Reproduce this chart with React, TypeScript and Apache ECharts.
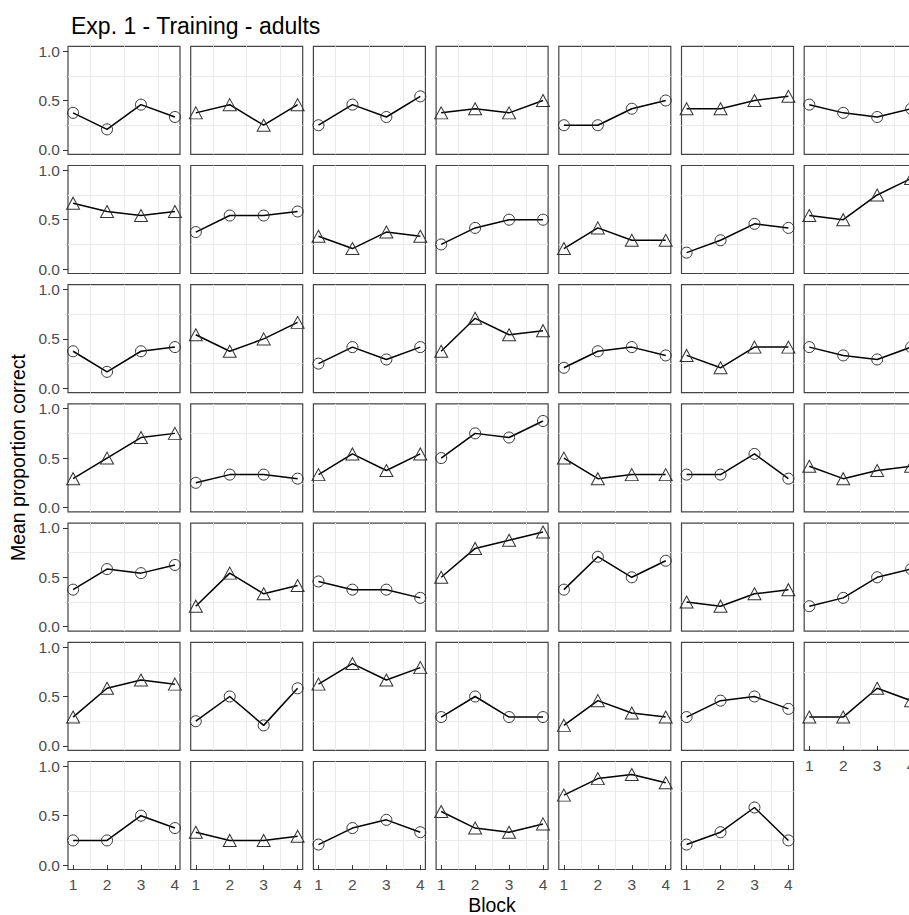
import React, { useEffect, useRef } from "react";
import * as echarts from "echarts";

const titleText = "Exp. 1 - Training - adults";
const xAxisTitle = "Block";
const yAxisTitle = "Mean proportion correct";

const blocks = [1, 2, 3, 4];
const xMinorGrid = [1.5, 2.5, 3.5];
const yTicks = [0, 0.5, 1];
const yMinorGrid = [0.25, 0.75];

const row1Values = [
  [0.375, 0.208, 0.458, 0.333],
  [0.375, 0.458, 0.25, 0.458],
  [0.25, 0.458, 0.333, 0.542],
  [0.375, 0.417, 0.375, 0.5],
  [0.25, 0.25, 0.417, 0.5],
  [0.417, 0.417, 0.5, 0.542],
  [0.458, 0.375, 0.333, 0.417],
];
const row2Values = [
  [0.667, 0.583, 0.542, 0.583],
  [0.375, 0.542, 0.542, 0.583],
  [0.333, 0.208, 0.375, 0.333],
  [0.25, 0.417, 0.5, 0.5],
  [0.208, 0.417, 0.292, 0.292],
  [0.167, 0.292, 0.458, 0.417],
  [0.542, 0.5, 0.75, 0.917],
];
const row3Values = [
  [0.375, 0.167, 0.375, 0.417],
  [0.542, 0.375, 0.5, 0.667],
  [0.25, 0.417, 0.292, 0.417],
  [0.375, 0.708, 0.542, 0.583],
  [0.208, 0.375, 0.417, 0.333],
  [0.333, 0.208, 0.417, 0.417],
  [0.417, 0.333, 0.292, 0.417],
];
const row4Values = [
  [0.292, 0.5, 0.708, 0.75],
  [0.25, 0.333, 0.333, 0.292],
  [0.333, 0.542, 0.375, 0.542],
  [0.5, 0.75, 0.708, 0.875],
  [0.5, 0.292, 0.333, 0.333],
  [0.333, 0.333, 0.542, 0.292],
  [0.417, 0.292, 0.375, 0.417],
];
const row5Values = [
  [0.375, 0.583, 0.542, 0.625],
  [0.208, 0.542, 0.333, 0.417],
  [0.458, 0.375, 0.375, 0.292],
  [0.5, 0.792, 0.875, 0.958],
  [0.375, 0.708, 0.5, 0.667],
  [0.25, 0.208, 0.333, 0.375],
  [0.208, 0.292, 0.5, 0.583],
];
const row6Values = [
  [0.292, 0.583, 0.667, 0.625],
  [0.25, 0.5, 0.208, 0.583],
  [0.625, 0.833, 0.667, 0.792],
  [0.292, 0.5, 0.292, 0.292],
  [0.208, 0.458, 0.333, 0.292],
  [0.292, 0.458, 0.5, 0.375],
  [0.292, 0.292, 0.583, 0.458],
];
const row7Values = [
  [0.25, 0.25, 0.5, 0.375],
  [0.333, 0.25, 0.25, 0.292],
  [0.208, 0.375, 0.458, 0.333],
  [0.542, 0.375, 0.333, 0.417],
  [0.708, 0.875, 0.917, 0.833],
  [0.208, 0.333, 0.583, 0.25],
];

const row1Shapes = ["circle", "triangle", "circle", "triangle", "circle", "triangle", "circle"];
const row2Shapes = ["triangle", "circle", "triangle", "circle", "triangle", "circle", "triangle"];
const row3Shapes = ["circle", "triangle", "circle", "triangle", "circle", "triangle", "circle"];
const row4Shapes = ["triangle", "circle", "triangle", "circle", "triangle", "circle", "triangle"];
const row5Shapes = ["circle", "triangle", "circle", "triangle", "circle", "triangle", "circle"];
const row6Shapes = ["triangle", "circle", "triangle", "circle", "triangle", "circle", "triangle"];
const row7Shapes = ["circle", "triangle", "circle", "triangle", "triangle", "circle"];

const rowsValues = [row1Values, row2Values, row3Values, row4Values, row5Values, row6Values, row7Values];
const rowsShapes = [row1Shapes, row2Shapes, row3Shapes, row4Shapes, row5Shapes, row6Shapes, row7Shapes];

const FONT = "'Liberation Sans', Arial, sans-serif";

export default function App() {
  const ref = useRef<HTMLDivElement>(null);
  useEffect(() => {
    if (!ref.current) return;
    const chart = echarts.init(ref.current, undefined, { renderer: "svg" });

    const nCols = 7;
    const panelLeft0 = 68;
    const colStep = 122.7;
    const panelTop0 = 46.3;
    const rowStep = 119.2;
    const panelW = 112;
    const panelH = 108;

    const grids: any[] = [];
    const xAxes: any[] = [];
    const yAxes: any[] = [];
    const series: any[] = [];

    const bottomRow: number[] = [];
    for (let c = 0; c < nCols; c++) {
      let b = 0;
      rowsValues.forEach((row, r) => {
        if (row[c]) b = r;
      });
      bottomRow[c] = b;
    }

    let idx = 0;
    rowsValues.forEach((row, r) => {
      row.forEach((vals, c) => {
        const isBottom = bottomRow[c] === r;
        const isLeft = c === 0;
        grids.push({
          left: panelLeft0 + c * colStep,
          top: panelTop0 + r * rowStep,
          width: panelW,
          height: panelH,
          show: true,
          borderColor: "#444444",
          borderWidth: 1.2,
          backgroundColor: "#ffffff",
          outerBoundsMode: "none",
          containLabel: false,
        });
        xAxes.push({
          gridIndex: idx,
          type: "value",
          min: 0.85,
          max: 4.15,
          axisLine: { show: false },
          splitLine: { show: false },
          axisTick: {
            show: isBottom,
            customValues: blocks,
            length: 5,
            lineStyle: { color: "#333333", width: 1 },
          },
          axisLabel: {
            show: isBottom,
            customValues: blocks,
            margin: 7,
            fontSize: 15.5,
            color: "#4D4D4D",
            fontFamily: FONT,
            formatter: (v: number) => String(v),
          },
        });
        yAxes.push({
          gridIndex: idx,
          type: "value",
          min: -0.044,
          max: 1.048,
          axisLine: { show: false },
          splitLine: { show: false },
          axisTick: {
            show: isLeft,
            customValues: yTicks,
            length: 5,
            lineStyle: { color: "#333333", width: 1 },
          },
          axisLabel: {
            show: isLeft,
            customValues: yTicks,
            margin: 8,
            fontSize: 15.5,
            color: "#4D4D4D",
            fontFamily: FONT,
            formatter: (v: number) => v.toFixed(1),
          },
        });
        const data = blocks.map((b, k) => [b, vals[k]]);
        series.push({
          type: "line",
          xAxisIndex: idx,
          yAxisIndex: idx,
          data,
          z: 1,
          silent: true,
          showSymbol: false,
          symbol: "none",
          lineStyle: { opacity: 0 },
          markLine: {
            silent: true,
            z: 1,
            symbol: ["none", "none"],
            label: { show: false },
            animation: false,
            lineStyle: { color: "#EBEBEB", type: "solid", width: 1 },
            data: [
              ...xMinorGrid.map((x) => ({ xAxis: x })),
              ...yMinorGrid.map((y) => ({ yAxis: y })),
            ],
          },
        });
        const shape = rowsShapes[r][c];
        series.push({
          type: "line",
          xAxisIndex: idx,
          yAxisIndex: idx,
          data,
          z: 10,
          symbol: shape,
          symbolSize: shape === "circle" ? 11 : [13, 12],
          showSymbol: true,
          lineStyle: { color: "#000000", width: 1.5 },
          itemStyle: {
            color: "rgba(255,255,255,0)",
            borderColor: "#333333",
            borderWidth: 1,
          },
        });
        idx++;
      });
    });

    chart.setOption({
      animation: false,
      backgroundColor: "#ffffff",
      title: {
        text: titleText,
        left: 66,
        top: 9,
        textStyle: { fontSize: 23, fontWeight: "normal", color: "#000000", fontFamily: FONT },
      },
      grid: grids,
      xAxis: xAxes,
      yAxis: yAxes,
      series,
      graphic: [
        {
          type: "text",
          x: 18,
          y: 457.6,
          rotation: Math.PI / 2,
          style: {
            text: yAxisTitle,
            fontSize: 19.5,
            fontFamily: FONT,
            fill: "#000000",
            align: "center",
            verticalAlign: "middle",
          },
        },
        {
          type: "text",
          x: 492,
          y: 905,
          style: {
            text: xAxisTitle,
            fontSize: 19.5,
            fontFamily: FONT,
            fill: "#000000",
            align: "center",
            verticalAlign: "middle",
          },
        },
      ],
    });
    return () => chart.dispose();
  }, []);
  return (
    <div
      ref={ref}
      style={{ position: "absolute", left: 0, top: 0, width: 909, height: 915 }}
    />
  );
}
